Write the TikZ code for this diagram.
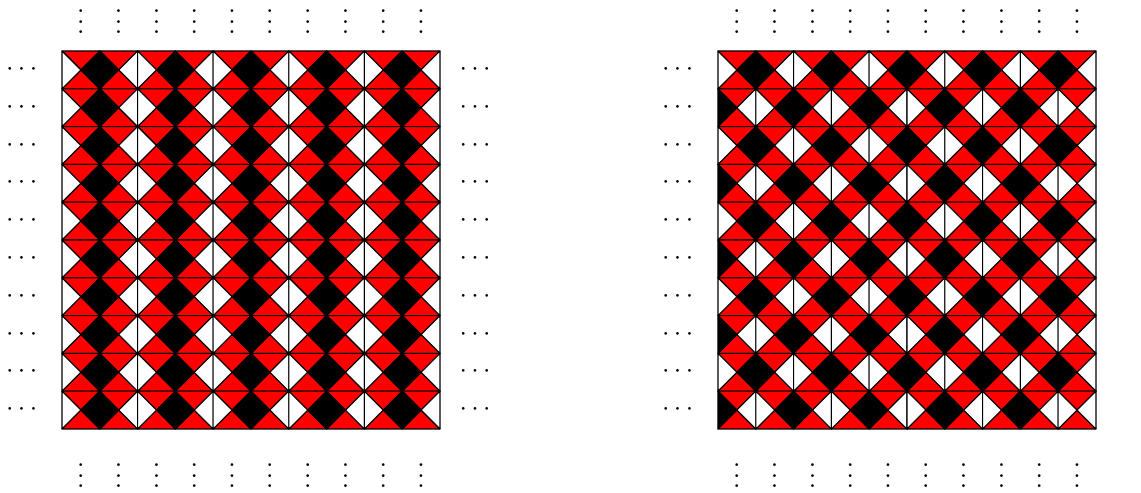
\documentclass[tikz,border=0pt]{standalone}
\begin{document}
\begin{tikzpicture}[x=0.5cm,y=0.5cm,
  tri/.style={draw=black,line width=0.4pt,line join=round},
  dotlbl/.style={inner sep=0pt,outer sep=0pt,anchor=base}]
\useasboundingbox (-1.640,-1.667) rectangle (28.545,11.349);
\foreach \g/\ox in {0/0,1/17.354} {
  \foreach \c in {0,...,9} {
    \foreach \r in {0,...,9} {
      \pgfmathtruncatemacro{\p}{mod(\c+\g*\r,2)}
      \pgfmathtruncatemacro{\yy}{9-\r}
      \pgfmathtruncatemacro{\sp}{(\g==1)&&(\c==9)&&(mod(\r,2)==1)}
      \ifnum\p=0 \def\lc{white}\def\rc{black}\else\def\lc{black}\def\rc{white}\fi
      \ifnum\sp=1 \def\lc{white}\def\rc{white}\fi
      \begin{scope}[shift={(\ox+\c,\yy)}]
        \filldraw[tri,fill=red] (0,1) -- (1,1) -- (0.5,0.5) -- cycle;
        \filldraw[tri,fill=red] (0,0) -- (1,0) -- (0.5,0.5) -- cycle;
        \filldraw[tri,fill=\lc] (0,0) -- (0,1) -- (0.5,0.5) -- cycle;
        \filldraw[tri,fill=\rc] (1,0) -- (1,1) -- (0.5,0.5) -- cycle;
      \end{scope}
    }
    \node[dotlbl] (top\g-\c) at (\ox+\c+0.5,10.455) {$\vdots$};
    \node[dotlbl] (bot\g-\c) at (\ox+\c+0.5,-1.556) {$\vdots$};
  }
}
\foreach \r in {0,...,9} {
  \node[dotlbl] (la-\r) at (-1.066,9.35-\r) {$\cdots$};
  \node[dotlbl] (lb-\r) at (10.926,9.35-\r) {$\cdots$};
  \node[dotlbl] (ra-\r) at (16.288,9.35-\r) {$\cdots$};
}
\end{tikzpicture}
\end{document}
